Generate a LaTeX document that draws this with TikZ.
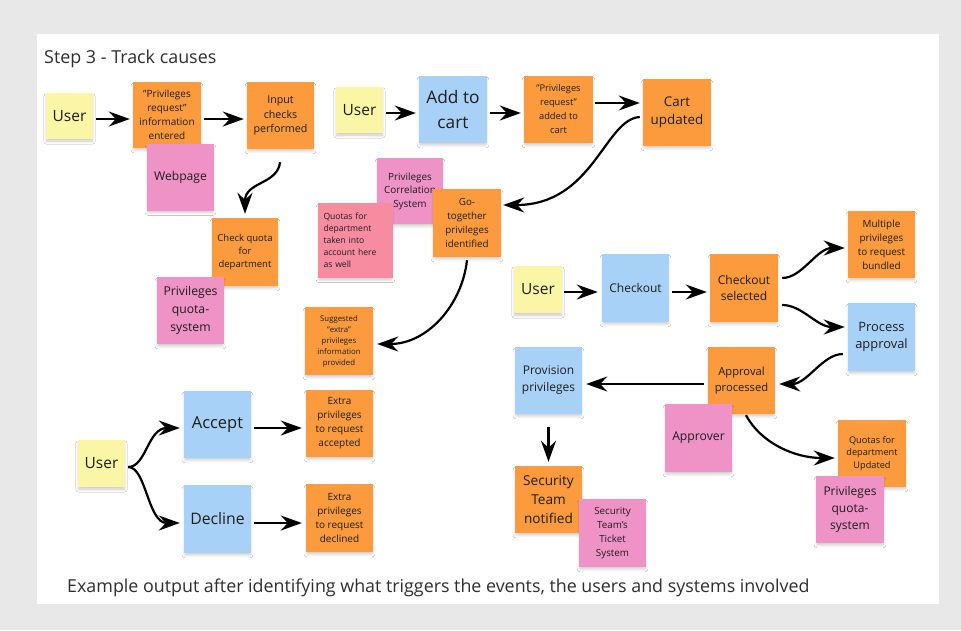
\documentclass[tikz,border=0pt]{standalone}
\usepackage{fontspec}
\setmainfont{Open Sans}
\usetikzlibrary{arrows.meta,shadows.blur}

\definecolor{pagegray}{HTML}{E8E8E8}
\definecolor{noteyellow}{HTML}{FBF6A6}
\definecolor{noteorange}{HTML}{FC9B3E}
\definecolor{notepink}{HTML}{EF92C6}
\definecolor{noteblue}{HTML}{A8D1F7}
\definecolor{notesalmon}{HTML}{F78BA0}
\definecolor{inktext}{HTML}{1E1E1E}
\definecolor{headtext}{HTML}{2E2E2E}

\tikzset{
  fsz/.style 2 args={font=\fontsize{#1}{#2}\selectfont},
  note/.style={rectangle, inner sep=1pt, align=center, text=inktext,
    minimum width=67pt, minimum height=67pt,
    blur shadow={shadow xshift=0pt, shadow yshift=-3pt, shadow scale=0.97,
      shadow opacity=22, shadow blur steps=6, shadow blur radius=3pt}},
  yellownote/.style={note, fill=noteyellow, minimum width=47pt, minimum height=46pt},
  orangenote/.style={note, fill=noteorange},
  pinknote/.style={note, fill=notepink},
  bluenote/.style={note, fill=noteblue},
  salmonnote/.style={note, fill=notesalmon},
  arr/.style={line width=2.2pt, draw=black,
    -{Stealth[length=21pt,width=15pt,inset=7pt]}},
}

\begin{document}
\begin{tikzpicture}[x=1pt,y=-1pt]
  \useasboundingbox (0,0) rectangle (961,630);
  \fill[pagegray] (0,0) rectangle (961,630);
  \fill[white] (37,34) rectangle (939,604);

  % headings
  \node[anchor=base west, inner sep=0, text=headtext, fsz={17.9}{20}] (title) at (44,63)
    {Step 3 - Track causes};
  \node[anchor=base west, inner sep=0, text=headtext, fsz={17.85}{20}] (caption) at (67,592)
    {Example output after identifying what triggers the events, the users and systems involved};

  % --- request flow ---
  \node[yellownote, fsz={15.5}{18}] (u1) at (69.5,116) {User};
  \node[orangenote, minimum width=68pt, minimum height=66pt, fsz={10}{14}] (p1) at (167,115)
    {"Privileges\\request"\\information\\entered};
  \node[orangenote, fsz={10.7}{14.5}] (ic) at (280.5,115.5) {Input\\checks\\performed};
  \node[pinknote, fsz={12.1}{15}] (wp) at (180.5,177) {Webpage};
  \node[orangenote, minimum width=66pt, minimum height=68pt, fsz={9.5}{12.7}] (cq) at (245,252)
    {Check quota\\for\\department};
  \node[pinknote, fsz={12.2}{17.7}] (pq1) at (190.5,310.5) {Privileges\\quota-\\system};

  % --- cart flow ---
  \node[yellownote, fsz={15.5}{18}] (u2) at (359.5,110) {User};
  \node[bluenote, minimum width=68pt, fsz={17.3}{25}] (ac) at (453,109.5) {Add to\\cart};
  \node[orangenote, minimum width=69pt, fsz={9.3}{14}] (pa) at (558.5,109.5)
    {"Privileges\\request"\\added to\\cart};
  \node[orangenote, minimum width=68pt, fsz={13.4}{18.3}] (cu) at (677,112.5) {Cart\\updated};
  \node[pinknote, minimum width=66pt, minimum height=66pt, fsz={9.9}{13.5}] (pcs) at (410,191)
    {Privileges\\Correlation\\System};
  \node[salmonnote, minimum width=75pt, minimum height=75pt, align=left,
    text width=64pt, fsz={8.6}{12}] (qd) at (355.5,240.5)
    {Quotas for\\department\\taken into\\account here\\as well};
  \node[orangenote, minimum width=68pt, minimum height=68pt, fsz={9.8}{14.3}] (gt) at (467,223)
    {Go-\\together\\privileges\\identified};
  \node[orangenote, minimum width=68pt, minimum height=68pt, fsz={7.8}{11}] (se) at (339,341)
    {Suggested\\"extra"\\privileges\\information\\provided};

  % --- checkout flow ---
  \node[yellownote, minimum width=48pt, minimum height=47pt, fsz={15.5}{18}] (u3) at (538,289.5) {User};
  \node[bluenote, minimum height=68pt, fsz={12}{15}] (co) at (635.5,288) {Checkout};
  \node[orangenote, minimum width=68pt, minimum height=68pt, fsz={12}{16.7}] (cs) at (744,288)
    {Checkout\\selected};
  \node[orangenote, fsz={9.9}{14}] (mp) at (881.5,244.5)
    {Multiple\\privileges\\to request\\bundled};
  \node[bluenote, minimum height=68pt, fsz={12.9}{17}] (pr) at (881.5,337) {Process\\approval};
  \node[bluenote, fsz={12}{17}] (pp) at (548.5,380.5) {Provision\\privileges};
  \node[orangenote, fsz={11.2}{15.5}] (ap) at (741.5,380.5) {Approval\\processed};
  \node[pinknote, minimum height=68pt, fsz={12.2}{15}] (av) at (698.5,438) {Approver};
  \node[orangenote, minimum width=68pt, fsz={9.2}{12.8}] (qu) at (872,453.5)
    {Quotas for\\department\\Updated};
  \node[pinknote, minimum width=68pt, fsz={12}{17}] (pq2) at (850,509.5) {Privileges\\quota-\\system};
  \node[orangenote, fsz={13.6}{19}] (st) at (548.5,499.5) {Security\\Team\\notified};
  \node[pinknote, minimum height=68pt, fsz={9.8}{14}] (sts) at (612.5,533)
    {Security\\Team's\\Ticket\\System};

  % --- extra privileges decision ---
  \node[yellownote, minimum height=47pt, fsz={15.5}{18}] (u4) at (101.5,463.5) {User};
  \node[bluenote, fsz={16.5}{20}] (acc) at (217.5,424.5) {Accept};
  \node[bluenote, minimum height=68pt, fsz={15.8}{20}] (dec) at (217.5,519) {Decline};
  \node[orangenote, fsz={10}{14}] (ea) at (339.5,423.5)
    {Extra\\privileges\\to request\\accepted};
  \node[orangenote, minimum height=68pt, fsz={10}{14}] (ed) at (339.5,518)
    {Extra\\privileges\\to request\\declined};

  % --- connectors ---
  \draw[arr] ([xshift=3pt,yshift=-3pt]u1.east) -- ([xshift=-3pt,yshift=-4pt]p1.west);
  \draw[arr] ([xshift=3pt,yshift=-4pt]p1.east) -- ([xshift=-3pt,yshift=-3.5pt]ic.west);
  \draw[arr] ([xshift=-0.5pt,yshift=-13pt]ic.south)
    .. controls +(-2,22) and +(0,-32) .. ([yshift=4pt]cq.north);

  \draw[arr] ([xshift=3pt,yshift=-3pt]u2.east) -- ([xshift=-3pt,yshift=-3.5pt]ac.west);
  \draw[arr] ([xshift=3pt,yshift=-3.5pt]ac.east) -- ([xshift=-3pt,yshift=-3.5pt]pa.west);
  \draw[arr] ([xshift=2pt,yshift=6.5pt]pa.east) -- ([xshift=-3pt,yshift=9.5pt]cu.west);
  \draw[arr] ([xshift=-3pt,yshift=-4.5pt]cu.west)
    .. controls +(-35,2) and +(90,0) .. ([xshift=2pt,yshift=18pt]gt.east);
  \draw[arr] ([yshift=-3pt]gt.south)
    .. controls +(-5,45) and +(50,0) .. ([xshift=4pt,yshift=-3pt]se.east);

  \draw[arr] ([xshift=2pt,yshift=-2.5pt]u3.east) -- ([xshift=-4pt,yshift=-4pt]co.west);
  \draw[arr] ([xshift=3pt,yshift=-4pt]co.east) -- ([xshift=-3pt,yshift=-4pt]cs.west);
  \draw[arr] ([xshift=4pt,yshift=10pt]cs.east)
    .. controls +(20,0) and +(-28,0) .. ([xshift=-3pt,yshift=-3.5pt]mp.west);
  \draw[arr] ([xshift=4pt,yshift=-17pt]cs.east)
    .. controls +(20,0) and +(-28,0) .. ([xshift=-3pt,yshift=10pt]pr.west);
  \draw[arr] ([xshift=-5pt,yshift=-17pt]pr.west)
    .. controls +(-20,0) and +(28,0) .. ([xshift=4pt,yshift=-3.5pt]ap.east);
  \draw[arr] ([xshift=-4pt,yshift=-3.5pt]ap.west) -- ([xshift=4pt,yshift=-3.5pt]pp.east);
  \draw[arr] ([xshift=4.5pt,yshift=-1pt]ap.south)
    .. controls +(15,28) and +(-40,0) .. ([xshift=-3pt,yshift=-4.5pt]qu.west);
  \draw[arr] ([yshift=-13pt]pp.south) -- ([yshift=4pt]st.north);

  \draw[arr] ([xshift=3pt,yshift=-3.5pt]u4.east)
    .. controls +(18,0) and +(-32,0) .. ([xshift=-4pt,yshift=-3.5pt]acc.west);
  \draw[arr] ([xshift=3pt,yshift=-3.5pt]u4.east)
    .. controls +(18,0) and +(-32,0) .. ([xshift=-4pt,yshift=-4pt]dec.west);
  \draw[arr] ([xshift=3pt,yshift=-3.5pt]acc.east) -- ([xshift=-4pt,yshift=-4.5pt]ea.west);
  \draw[arr] ([xshift=3pt,yshift=-4pt]dec.east) -- ([xshift=-4pt,yshift=-5pt]ed.west);
\end{tikzpicture}
\end{document}
